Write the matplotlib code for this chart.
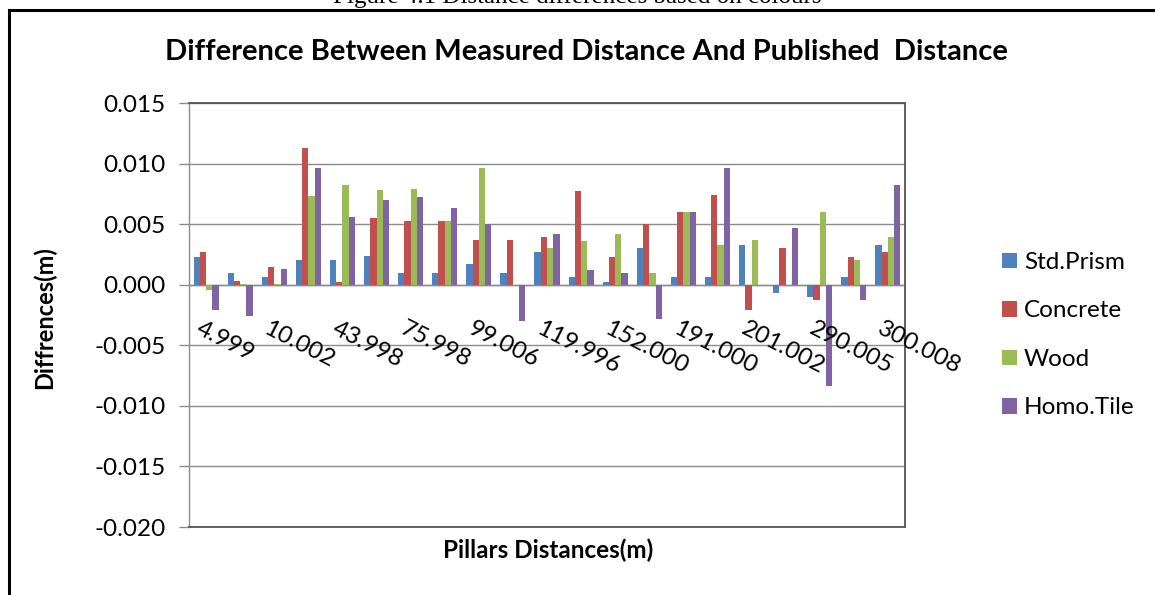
import matplotlib
matplotlib.use("Agg")
import matplotlib.pyplot as plt
import numpy as np
from matplotlib.patches import Rectangle, Patch
from matplotlib.ticker import FuncFormatter, MultipleLocator
import matplotlib.transforms as mtransforms

# Pillar distances (m); only every second category carries a visible label
distance_labels = ["4.999", "10.002", "43.998", "75.998", "99.006", "119.996",
                   "152.000", "191.000", "201.002", "290.005", "300.008"]
n_categories = 21

series_names = ["Std.Prism", "Concrete", "Wood", "Homo.Tile"]
series_colors = ["#4F81BD", "#C0504D", "#9BBB59", "#8064A2"]

std_prism = [0.0023, 0.0010, 0.0006, 0.0020, 0.0020, 0.0024, 0.0010, 0.0010,
             0.0017, 0.0010, 0.0027, 0.0006, 0.0002, 0.0030, 0.0006, 0.0006,
             0.0033, -0.0007, -0.0010, 0.0006, 0.0033]
concrete = [0.0027, 0.0003, 0.0015, 0.0113, 0.0002, 0.0055, 0.0053, 0.0053,
            0.0037, 0.0037, 0.0039, 0.0077, 0.0023, 0.0050, 0.0060, 0.0074,
            -0.0021, 0.0030, -0.0013, 0.0023, 0.0027]
wood = [-0.0004, 0.0001, 0.0001, 0.0073, 0.0082, 0.0078, 0.0079, 0.0053,
        0.0096, 0.0000, 0.0030, 0.0036, 0.0042, 0.0010, 0.0060, 0.0033,
        0.0037, 0.0000, 0.0060, 0.0020, 0.0039]
homo_tile = [-0.0021, -0.0026, 0.0013, 0.0096, 0.0056, 0.0070, 0.0072, 0.0063,
             0.0050, -0.0030, 0.0042, 0.0012, 0.0010, -0.0028, 0.0060, 0.0096,
             0.0000, 0.0047, -0.0084, -0.0013, 0.0082]

series_values = [std_prism, concrete, wood, homo_tile]

W, H, DPI = 1155, 595, 100
fig = plt.figure(figsize=(W / DPI, H / DPI), dpi=DPI)
fig.patch.set_facecolor("white")

FONT = "Lato"

def px_x(x):
    return x / W

def px_y(y):
    return 1 - y / H

# chart area frame (runs off the right and bottom edges)
fig.patches.append(Rectangle((px_x(9), px_y(700)), px_x(1300), px_y(10) - px_y(700),
                             transform=fig.transFigure, fill=False,
                             edgecolor="black", linewidth=2.2, zorder=0))

# caption above the chart area (its upper part lies above the page crop)
fig.text(px_x(577), px_y(3), "Figure 4.1 Distance differences based on colours",
         ha="center", va="baseline", fontsize=18, family="Liberation Serif",
         color="black")

ax = fig.add_axes([px_x(189), px_y(527), px_x(905) - px_x(189), px_y(103) - px_y(527)])

x = np.arange(n_categories)
bar_w = 0.184
offsets = (np.arange(len(series_values)) - 1.5) * bar_w
for vals, off, col, name in zip(series_values, offsets, series_colors, series_names):
    ax.bar(x + off, vals, width=bar_w, color=col, label=name, zorder=3,
           linewidth=0)

ax.set_xlim(-0.5, n_categories - 0.5)
ax.set_ylim(-0.020, 0.015)
ax.yaxis.set_major_locator(MultipleLocator(0.005))
ax.yaxis.set_major_formatter(FuncFormatter(lambda v, p: f"{v:.3f}"))
ax.grid(axis="y", color="#8c8c8c", linewidth=1.0, zorder=1)
ax.axhline(0, color="#8c8c8c", linewidth=1.0, zorder=2)
ax.set_xticks([])
ax.tick_params(axis="y", direction="out", length=7, width=1.0, color="#8c8c8c",
               labelsize=17.5, pad=10)
for lab in ax.get_yticklabels():
    lab.set_family(FONT)
for side in ["top", "right", "bottom"]:
    ax.spines[side].set_color("#555555")
    ax.spines[side].set_linewidth(1.3)
ax.spines["left"].set_color("#8c8c8c")
ax.spines["left"].set_linewidth(1.0)

# rotated category labels hanging below the zero line
label_pos = x[::2]
offset = mtransforms.ScaledTranslation(-4 / DPI, -33 / DPI, fig.dpi_scale_trans)
for pos, txt in zip(label_pos, distance_labels):
    ax.text(pos, 0, txt, transform=ax.transData + offset, rotation=-27,
            rotation_mode="anchor", ha="left", va="top", fontsize=17.5,
            family=FONT, clip_on=False, zorder=5)

fig.text(px_x(586), px_y(52), "Difference Between Measured Distance And Published  Distance",
         ha="center", va="center", fontsize=21, fontweight="bold", family=FONT)
fig.text(px_x(44), px_y(318), "Diffrences(m)", ha="center", va="center",
         rotation=90, fontsize=17, fontweight="bold", family=FONT)
fig.text(px_x(548), px_y(550), "Pillars Distances(m)", ha="center", va="center",
         fontsize=17.5, fontweight="bold", family=FONT)

handles = [Patch(facecolor=c, edgecolor="none", label=n)
           for c, n in zip(series_colors, series_names)]
leg = fig.legend(handles=handles, loc="upper left",
                 bbox_to_anchor=(px_x(1002), px_y(252)), frameon=False,
                 prop={"family": FONT, "size": 17.5}, handlelength=0.6,
                 handleheight=0.6, handletextpad=0.3, labelspacing=1.13,
                 borderpad=0, borderaxespad=0)

fig.savefig("out.png", dpi=DPI)
